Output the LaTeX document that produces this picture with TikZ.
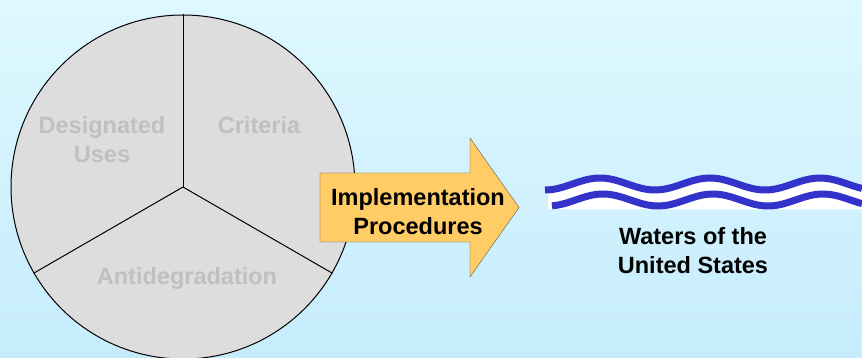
\documentclass[tikz,border=0pt]{standalone}
\usepackage{fontspec}
\setmainfont{Liberation Sans}
\usetikzlibrary{positioning}

\definecolor{bgTop}{RGB}{222,248,255}
\definecolor{bgBottom}{RGB}{198,236,252}
\definecolor{pieFill}{RGB}{221,221,221}
\definecolor{pieText}{RGB}{192,192,192}
\definecolor{arrowFill}{RGB}{255,204,102}
\definecolor{arrowEdge}{RGB}{90,90,90}
\definecolor{waveBlue}{RGB}{51,51,204}

\begin{document}
\begin{tikzpicture}[x=1pt,y=-1pt,
	label text/.style={font=\fontsize{23.5}{29}\selectfont\bfseries,align=center,inner sep=0pt},
	slice text/.style={label text,text=pieText},
	wave line/.style={line width=7pt,draw=waveBlue}]
	
	\useasboundingbox (0,0) rectangle (862,358);
	\shade[top color=bgTop,bottom color=bgBottom] (0,0) rectangle (862,358);
	
	% the pie with its three slices
	\node[circle,draw,fill=pieFill,minimum size=344pt,inner sep=0pt,line width=1pt] (pie) at (183,187) {};
	\draw[line width=1pt] (pie.center) -- (pie.90);
	\draw[line width=1pt] (pie.center) -- (pie.210);
	\draw[line width=1pt] (pie.center) -- (pie.330);
	
	\node[slice text] (uses) at (102,140) {Designated\\Uses};
	\node[slice text] (criteria) at (259,125) {Criteria};
	\node[slice text] (antideg) at (187,278) {Antidegradation};
	
	% the arrow
	\draw[draw=arrowEdge,fill=arrowFill] (320,173) -- (470,173) -- (470,138) -- (519,207.5)
		-- (470,277) -- (470,242) -- (320,242) -- cycle;
	\node[label text] (impl) at (418,212) {Implementation\\Procedures};
	
	% the waters
	\fill[white] plot[domain=548:862,samples=80] (\x,{184-6*cos((\x-600)/110*360)})
		-- (862,209.5) -- (548,209.5) -- cycle;
	\draw[wave line] plot[domain=545:862,samples=80] (\x,{184-6*cos((\x-600)/110*360)});
	\draw[wave line] plot[domain=552:862,samples=80] (\x,{200-6*cos((\x-603)/110*360)});
	
	\node[label text] (waters) at (693,251) {Waters of the\\United States};
\end{tikzpicture}
\end{document}
